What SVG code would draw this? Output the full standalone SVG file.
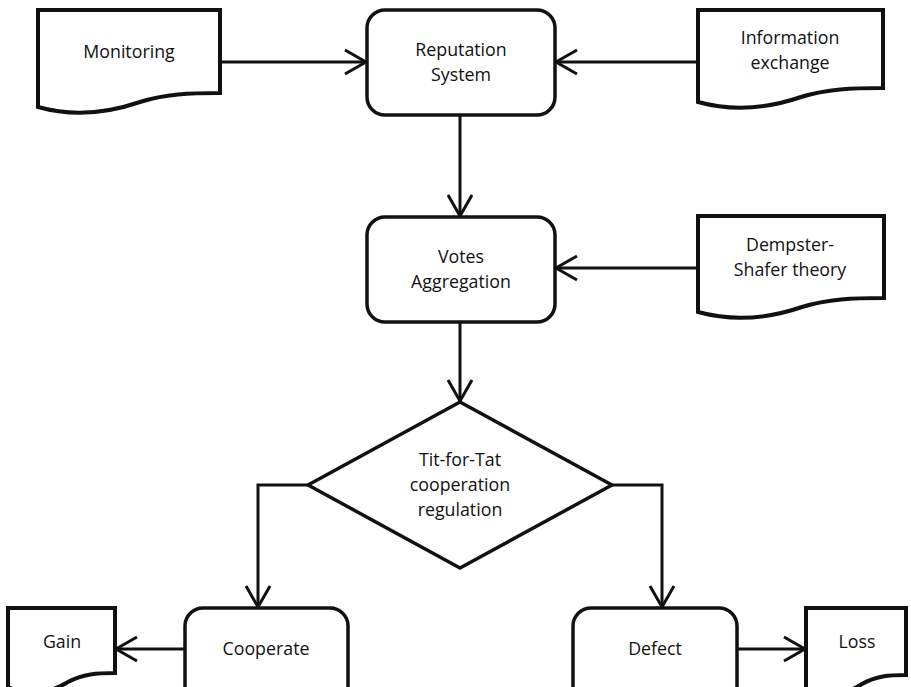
<svg xmlns="http://www.w3.org/2000/svg" width="911" height="687" viewBox="0 0 911 687">
<defs>
<marker id="arr" markerUnits="userSpaceOnUse" markerWidth="30" markerHeight="30" viewBox="0 0 30 30" refX="24" refY="15" orient="auto">
<path d="M3,3 L24,15 L3,27" fill="none" stroke="#111" stroke-width="3"/>
</marker>
</defs>
<style>
.shape{fill:#fff;stroke:#111;stroke-width:3.5;stroke-linejoin:round}
.doc{stroke-width:4;stroke-linejoin:miter}
.con{fill:none;stroke:#111;stroke-width:3}
text{font-family:"Open Sans","Liberation Sans",sans-serif;font-size:17.8px;fill:#111;text-anchor:middle}
</style>
<rect width="911" height="687" fill="#fff"/>
<g id="connectors">
<line class="con" x1="220" y1="62" x2="366" y2="62" marker-end="url(#arr)"/>
<line class="con" x1="698" y1="62" x2="556" y2="62" marker-end="url(#arr)"/>
<line class="con" x1="460" y1="115" x2="460" y2="216" marker-end="url(#arr)"/>
<line class="con" x1="698" y1="268" x2="556" y2="268" marker-end="url(#arr)"/>
<line class="con" x1="460" y1="322" x2="460" y2="401" marker-end="url(#arr)"/>
<polyline class="con" points="308,485 258,485 258,607" marker-end="url(#arr)"/>
<polyline class="con" points="612,485 662,485 662,607" marker-end="url(#arr)"/>
<line class="con" x1="185" y1="649" x2="116" y2="649" marker-end="url(#arr)"/>
<line class="con" x1="737" y1="649" x2="805" y2="649" marker-end="url(#arr)"/>
</g>
<g id="monitoring">
<path class="shape doc" d="M38,10 H220 V93 C190,93 165,94 140,102 C105,114 70,116 38,107 Z"/>
<text x="129" y="58">Monitoring</text>
</g>
<g id="reputation">
<rect class="shape" x="367" y="10" width="188" height="105" rx="18"/>
<text x="461" y="56">Reputation</text>
<text x="461" y="81">System</text>
</g>
<g id="information">
<path class="shape doc" d="M698,10 H883 V88 C852,88 827,89 801,97 C766,109 731,111 698,102 Z"/>
<text x="790" y="44">Information</text>
<text x="790" y="69">exchange</text>
</g>
<g id="votes">
<rect class="shape" x="367" y="217" width="188" height="105" rx="18"/>
<text x="461" y="263">Votes</text>
<text x="461" y="288">Aggregation</text>
</g>
<g id="dempster">
<path class="shape doc" d="M698,216 H884 V298 C853,298 828,299 802,307 C767,319 731,321 698,312 Z"/>
<text x="790" y="251">Dempster-</text>
<text x="790" y="276">Shafer theory</text>
</g>
<g id="titfortat">
<polygon class="shape" points="460,402 612,485 460,568 308,485"/>
<text x="460" y="466">Tit-for-Tat</text>
<text x="460" y="491">cooperation</text>
<text x="460" y="516">regulation</text>
</g>
<g id="cooperate">
<rect class="shape" x="185" y="608" width="163" height="100" rx="18"/>
<text x="266" y="655">Cooperate</text>
</g>
<g id="gain">
<path class="shape doc" d="M8,608 H115 V673 C97,673 83,674 68,682 C48,694 27,696 8,687 Z"/>
<text x="62" y="648">Gain</text>
</g>
<g id="defect">
<rect class="shape" x="573" y="608" width="164" height="100" rx="18"/>
<text x="655" y="655">Defect</text>
</g>
<g id="loss">
<path class="shape doc" d="M806,608 H906 V675 C889,675 876,676 862,684 C843,696 824,698 806,689 Z"/>
<text x="857" y="648">Loss</text>
</g>
</svg>
